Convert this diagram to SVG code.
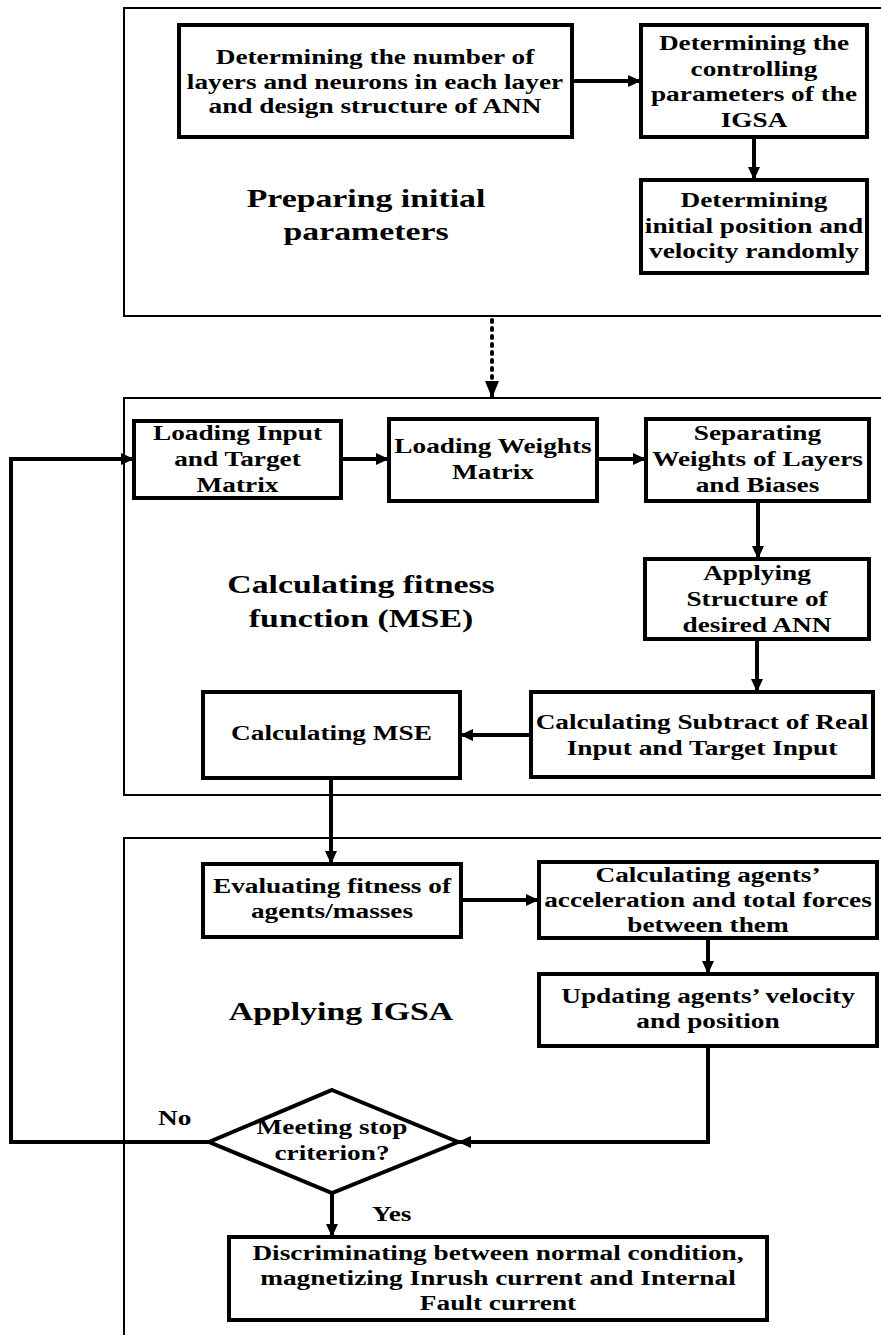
<svg xmlns="http://www.w3.org/2000/svg" width="881" height="1335" viewBox="0 0 881 1335">
<style>
.sec{fill:none;stroke:#000;stroke-width:2}
.box{fill:#fff;stroke:#000;stroke-width:4}
.con{fill:none;stroke:#000;stroke-width:4}
.dot{fill:none;stroke:#000;stroke-width:4;stroke-linecap:round;stroke-dasharray:2 6}
.bt{font-family:"Liberation Serif","Times New Roman",serif;font-weight:bold;font-size:21px;text-anchor:middle;fill:#000}
.lt{font-family:"Liberation Serif","Times New Roman",serif;font-weight:bold;font-size:26px;text-anchor:middle;fill:#000}
.st{font-family:"Liberation Serif","Times New Roman",serif;font-weight:bold;font-size:21px;text-anchor:start;fill:#000}
</style>
<defs>
<marker id="ah" markerUnits="userSpaceOnUse" markerWidth="14" markerHeight="12" refX="13" refY="6" orient="auto">
<path d="M0,0 L13,6 L0,12 Z" fill="#000"/>
</marker>
<marker id="ahb" markerUnits="userSpaceOnUse" markerWidth="17" markerHeight="14" refX="17" refY="7" orient="auto">
<path d="M0,0 L17,7 L0,14 Z" fill="#000"/>
</marker>
</defs>
<rect width="881" height="1335" fill="#fff"/>

<g id="sections">
<rect class="sec" x="124" y="8" width="800" height="308"/>
<rect class="sec" x="124" y="398" width="800" height="397"/>
<rect class="sec" x="124" y="838" width="800" height="600"/>
<text class="lt" transform="translate(366 0) scale(1.3 1)"><tspan x="0" y="207">Preparing initial</tspan><tspan x="0" y="240">parameters</tspan></text>
<text class="lt" transform="translate(361 0) scale(1.3 1)"><tspan x="0" y="593">Calculating fitness</tspan><tspan x="0" y="627">function (MSE)</tspan></text>
<text class="lt" transform="translate(341 0) scale(1.3 1)"><tspan x="0" y="1020">Applying IGSA</tspan></text>
</g>

<g id="connectors">
<line class="con" x1="572" y1="81" x2="641" y2="81" marker-end="url(#ah)"/>
<line class="con" x1="754" y1="137" x2="754" y2="180" marker-end="url(#ah)"/>
<line class="dot" x1="492" y1="320" x2="492" y2="378"/>
<line class="con" x1="492" y1="382" x2="492" y2="398" stroke-width="0.1" marker-end="url(#ahb)"/>
<line class="con" x1="341" y1="459" x2="389" y2="459" marker-end="url(#ah)"/>
<line class="con" x1="597" y1="459" x2="646" y2="459" marker-end="url(#ah)"/>
<line class="con" x1="758" y1="501" x2="758" y2="559" marker-end="url(#ah)"/>
<line class="con" x1="757" y1="639" x2="757" y2="692" marker-end="url(#ah)"/>
<line class="con" x1="531" y1="735" x2="460" y2="735" marker-end="url(#ah)"/>
<line class="con" x1="331" y1="778" x2="331" y2="864" marker-end="url(#ah)"/>
<line class="con" x1="461" y1="900" x2="539" y2="900" marker-end="url(#ah)"/>
<line class="con" x1="708" y1="938" x2="708" y2="974" marker-end="url(#ah)"/>
<polyline class="con" points="708,1046 708,1142 458,1142" marker-end="url(#ah)"/>
<polyline class="con" points="209,1142 11,1142 11,459 134,459" marker-end="url(#ah)"/>
<line class="con" x1="332" y1="1193" x2="332" y2="1237" marker-end="url(#ah)"/>
<text class="st" transform="translate(158 0) scale(1.3 1)"><tspan x="0" y="1125">No</tspan></text>
<text class="st" transform="translate(372 0) scale(1.3 1)"><tspan x="0" y="1221">Yes</tspan></text>
</g>

<g id="n-design">
<rect class="box" x="179" y="25" width="393" height="112"/>
<text class="bt" transform="translate(375 0) scale(1.3 1)"><tspan x="0" y="64">Determining the number of</tspan><tspan x="0" y="89">layers and neurons in each layer</tspan><tspan x="0" y="113">and design structure of ANN</tspan></text>
</g>
<g id="n-controlling">
<rect class="box" x="641" y="25" width="226" height="112"/>
<text class="bt" transform="translate(754 0) scale(1.3 1)"><tspan x="0" y="50">Determining the</tspan><tspan x="0" y="76">controlling</tspan><tspan x="0" y="101">parameters of the</tspan><tspan x="0" y="127">IGSA</tspan></text>
</g>
<g id="n-initial">
<rect class="box" x="641" y="180" width="226" height="93"/>
<text class="bt" transform="translate(754 0) scale(1.3 1)"><tspan x="0" y="207">Determining</tspan><tspan x="0" y="233">initial position and</tspan><tspan x="0" y="258">velocity randomly</tspan></text>
</g>

<g id="n-loadinput">
<rect class="box" x="134" y="421" width="207" height="77"/>
<text class="bt" transform="translate(237.5 0) scale(1.3 1)"><tspan x="0" y="440">Loading Input</tspan><tspan x="0" y="466">and Target</tspan><tspan x="0" y="492">Matrix</tspan></text>
</g>
<g id="n-loadweights">
<rect class="box" x="389" y="419" width="208" height="82"/>
<text class="bt" transform="translate(493 0) scale(1.3 1)"><tspan x="0" y="453">Loading Weights</tspan><tspan x="0" y="479">Matrix</tspan></text>
</g>
<g id="n-separating">
<rect class="box" x="646" y="419" width="223" height="82"/>
<text class="bt" transform="translate(757.5 0) scale(1.3 1)"><tspan x="0" y="440">Separating</tspan><tspan x="0" y="466">Weights of Layers</tspan><tspan x="0" y="492">and Biases</tspan></text>
</g>
<g id="n-applying">
<rect class="box" x="645" y="559" width="224" height="80"/>
<text class="bt" transform="translate(757 0) scale(1.3 1)"><tspan x="0" y="580">Applying</tspan><tspan x="0" y="606">Structure of</tspan><tspan x="0" y="632">desired ANN</tspan></text>
</g>
<g id="n-subtract">
<rect class="box" x="531" y="692" width="342" height="85"/>
<text class="bt" transform="translate(702 0) scale(1.3 1)"><tspan x="0" y="729">Calculating Subtract of Real</tspan><tspan x="0" y="755">Input and Target Input</tspan></text>
</g>
<g id="n-mse">
<rect class="box" x="203" y="692" width="257" height="86"/>
<text class="bt" transform="translate(331.5 0) scale(1.3 1)"><tspan x="0" y="740">Calculating MSE</tspan></text>
</g>

<g id="n-evaluating">
<rect class="box" x="203" y="864" width="258" height="73"/>
<text class="bt" transform="translate(332 0) scale(1.3 1)"><tspan x="0" y="893">Evaluating fitness of</tspan><tspan x="0" y="918">agents/masses</tspan></text>
</g>
<g id="n-acceleration">
<rect class="box" x="539" y="862" width="338" height="76"/>
<text class="bt" transform="translate(708 0) scale(1.3 1)"><tspan x="0" y="882">Calculating agents’</tspan><tspan x="0" y="907">acceleration and total forces</tspan><tspan x="0" y="932">between them</tspan></text>
</g>
<g id="n-updating">
<rect class="box" x="539" y="974" width="338" height="72"/>
<text class="bt" transform="translate(708 0) scale(1.3 1)"><tspan x="0" y="1003">Updating agents’ velocity</tspan><tspan x="0" y="1028">and position</tspan></text>
</g>
<g id="n-stop">
<polygon class="box" points="332,1090 458,1142 332,1193 209,1142"/>
<text class="bt" transform="translate(332 0) scale(1.3 1)"><tspan x="0" y="1134">Meeting stop</tspan><tspan x="0" y="1160">criterion?</tspan></text>
</g>
<g id="n-discriminating">
<rect class="box" x="229" y="1237" width="538" height="83"/>
<text class="bt" transform="translate(498 0) scale(1.3 1)"><tspan x="0" y="1260">Discriminating between normal condition,</tspan><tspan x="0" y="1285">magnetizing Inrush current and Internal</tspan><tspan x="0" y="1310">Fault current</tspan></text>
</g>
</svg>
